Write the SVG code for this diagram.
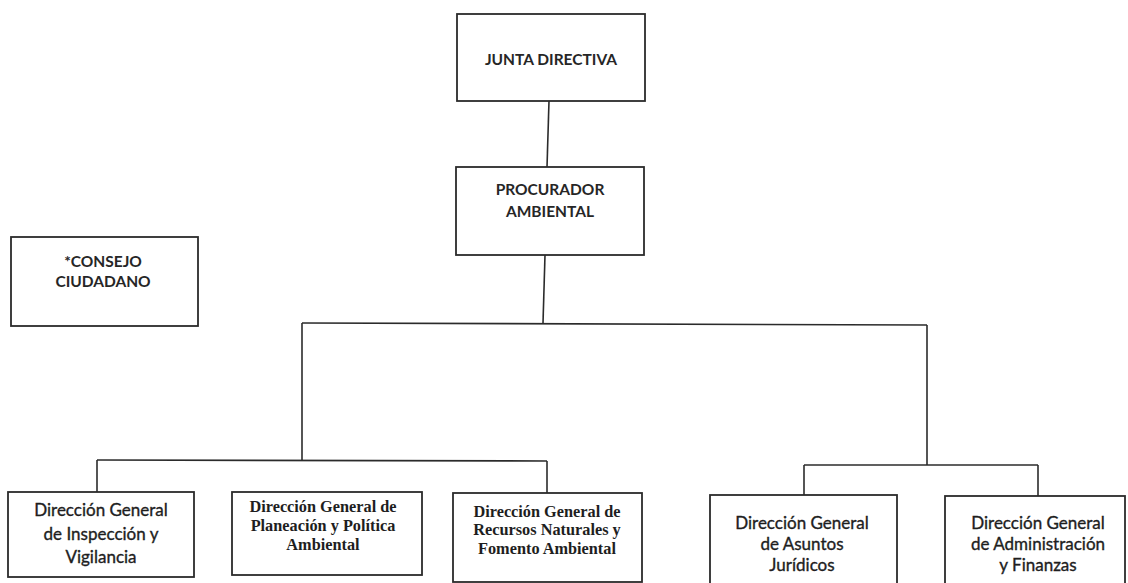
<svg xmlns="http://www.w3.org/2000/svg" width="1128" height="583" viewBox="0 0 1128 583">
<style>
.box{fill:#fff;stroke:#2b2b2b;stroke-width:1.8}
.ln{fill:none;stroke:#2b2b2b;stroke-width:1.6}
.cap{font-family:Lato,"Liberation Sans",sans-serif;font-weight:bold;font-size:15.5px;fill:#262626;text-anchor:middle}
.sans{font-family:Lato,"Liberation Sans",sans-serif;font-size:17px;fill:#1e1e1e;stroke:#1e1e1e;stroke-width:0.35;text-anchor:middle}
.serif{font-family:"Liberation Serif",serif;font-weight:bold;font-size:16.3px;fill:#1e1e1e;text-anchor:middle}
</style>
<rect width="1128" height="583" fill="#fff"/>
<g id="connectors">
<path class="ln" d="M549 101 L547 167"/>
<path class="ln" d="M545 255 L543 323"/>
<path class="ln" d="M302 323 L927 325"/>
<path class="ln" d="M302 323 L302 460"/>
<path class="ln" d="M927 325 L927 465"/>
<path class="ln" d="M97 460 L547 461"/>
<path class="ln" d="M97 460 L97 492"/>
<path class="ln" d="M547 461 L547 493"/>
<path class="ln" d="M804 465 L1038 465"/>
<path class="ln" d="M804 465 L804 496"/>
<path class="ln" d="M1038 465 L1038 496"/>
</g>
<g id="junta">
<rect class="box" x="457" y="14" width="188" height="87"/>
<text class="cap" x="551" y="65">JUNTA DIRECTIVA</text>
</g>
<g id="procurador">
<rect class="box" x="456" y="167" width="188" height="88"/>
<text class="cap" x="550" y="195">PROCURADOR</text>
<text class="cap" x="550" y="217">AMBIENTAL</text>
</g>
<g id="consejo">
<rect class="box" x="11" y="237" width="187" height="89"/>
<text class="cap" x="103" y="267">*CONSEJO</text>
<text class="cap" x="103" y="287">CIUDADANO</text>
</g>
<g id="inspeccion">
<rect class="box" x="8" y="492" width="186" height="85"/>
<text class="sans" x="101" y="516">Dirección General</text>
<text class="sans" x="101" y="540">de Inspección y</text>
<text class="sans" x="101" y="563">Vigilancia</text>
</g>
<g id="planeacion">
<rect class="box" x="232" y="492" width="190" height="83"/>
<text class="serif" x="323" y="512">Dirección General de</text>
<text class="serif" x="323" y="531">Planeación y Política</text>
<text class="serif" x="323" y="550">Ambiental</text>
</g>
<g id="recursos">
<rect class="box" x="453" y="493" width="189" height="89"/>
<text class="serif" x="547" y="517">Dirección General de</text>
<text class="serif" x="547" y="535">Recursos Naturales y</text>
<text class="serif" x="547" y="554">Fomento Ambiental</text>
</g>
<g id="juridicos">
<rect class="box" x="710" y="495" width="187" height="95"/>
<text class="sans" x="802" y="529">Dirección General</text>
<text class="sans" x="802" y="550">de Asuntos</text>
<text class="sans" x="802" y="571">Jurídicos</text>
</g>
<g id="administracion">
<rect class="box" x="945" y="496" width="180" height="95"/>
<text class="sans" x="1038" y="529">Dirección General</text>
<text class="sans" x="1038" y="550">de Administración</text>
<text class="sans" x="1038" y="571">y Finanzas</text>
</g>
</svg>
